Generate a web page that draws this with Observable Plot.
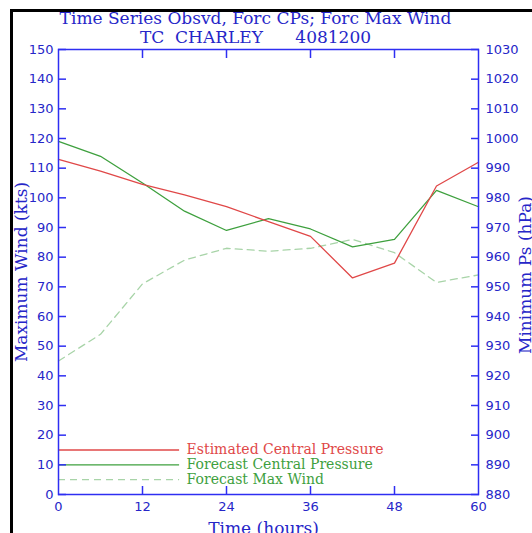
<!DOCTYPE html>
<html><head><meta charset="utf-8">
<script src="https://cdn.jsdelivr.net/npm/d3@7"></script>
<script src="https://cdn.jsdelivr.net/npm/@observablehq/plot@0.6"></script>
<style>
body{margin:0;background:#fff;}
#wrap{position:relative;width:532px;height:533px;overflow:hidden;background:#fff;}
#border{position:absolute;left:10px;top:9px;right:0;bottom:0;border-left:3px solid #000;border-top:3px solid #000;pointer-events:none;}
#wrap svg{position:absolute;left:0;top:0;}
svg text{white-space:pre;}
</style></head><body><div id="wrap"><div id="border"></div></div>
<script>
// Data (time in hours, pressure in hPa, wind in kts)
const hours = [0, 6, 12, 18, 24, 30, 36, 42, 48, 54, 60];
const estimatedCP = [993, 989, 984.5, 981, 977, 972, 967, 953, 958, 984, 992];
const forecastCP = [999, 994, 985, 975.5, 969, 973, 969.5, 963.5, 966, 982.5, 977];
const forecastWind = [45, 54, 71, 79, 83, 82, 83, 86, 81.5, 71.5, 74];
const windTicks = [0, 10, 20, 30, 40, 50, 60, 70, 80, 90, 100, 110, 120, 130, 140, 150];
const timeTicks = [0, 12, 24, 36, 48, 60];
const pressureBase = 880; // right axis: 880..1030 hPa
const titleLine1 = "Time Series Obsvd, Forc CPs; Forc Max Wind";
const titleLine2 = "TC  CHARLEY      4081200";
const legendLabels = ["Estimated Central Pressure", "Forecast Central Pressure", "Forecast Max Wind"];
const legendLevels = [15, 10, 5];

const BLUE = "#2e2ef2";
const TXT = "#2626c8";
const RED = "#e04848";
const GREEN = "#3ea03e";
const LGREEN = "#a8d4a8";

const est = hours.map((h, i) => ({h, v: estimatedCP[i] - pressureBase}));
const fcp = hours.map((h, i) => ({h, v: forecastCP[i] - pressureBase}));
const fw = hours.map((h, i) => ({h, v: forecastWind[i]}));
const legend = legendLabels.map((label, i) => ({label, y: legendLevels[i],
  color: [RED, GREEN, LGREEN][i], tcolor: [RED, GREEN, GREEN][i], dash: i === 2}));

const inner = timeTicks.slice(1, -1);
const serif = {fill: TXT, fontFamily: "DejaVu Serif", fontSize: 17, textAnchor: "middle", lineAnchor: "middle"};

const chart = Plot.plot({
  width: 532, height: 533,
  marginLeft: 58, marginRight: 54, marginTop: 49, marginBottom: 39,
  style: {fontFamily: "DejaVu Sans", fontSize: "13px", background: "transparent", overflow: "visible"},
  x: {domain: [0, 60]},
  y: {domain: [0, 150]},
  marks: [
    // data lines
    Plot.line(fw, {x: "h", y: "v", stroke: LGREEN, strokeWidth: 1.3, strokeDasharray: "7,5"}),
    Plot.line(fcp, {x: "h", y: "v", stroke: GREEN, strokeWidth: 1.3}),
    Plot.line(est, {x: "h", y: "v", stroke: RED, strokeWidth: 1.3}),
    // legend
    Plot.ruleY(legend.filter(d => !d.dash), {y: "y", x1: 0, x2: 17.3, stroke: "color", strokeWidth: 1.3}),
    Plot.ruleY(legend.filter(d => d.dash), {y: "y", x1: 0, x2: 17.3, stroke: "color", strokeWidth: 1.3, strokeDasharray: "7,5"}),
    Plot.text(legend, {x: 18.3, y: "y", text: "label", fill: "tcolor", textAnchor: "start",
      fontFamily: "DejaVu Serif", fontSize: 14}),
    // frame
    Plot.frame({stroke: BLUE, strokeWidth: 1.5}),
    // left axis
    Plot.axisY(windTicks, {anchor: "left", tickSize: -8, stroke: BLUE, strokeWidth: 1.5, tickFormat: () => "", label: null}),
    Plot.axisY(windTicks, {anchor: "left", tickSize: 0, tickPadding: 5, fill: TXT, fontSize: 13, label: null}),
    // right axis
    Plot.axisY(windTicks, {anchor: "right", tickSize: -8, stroke: BLUE, strokeWidth: 1.5, tickFormat: () => "", label: null}),
    Plot.axisY(windTicks, {anchor: "right", tickSize: 0, tickPadding: 7, fill: TXT, fontSize: 13,
      tickFormat: d => String(d + pressureBase), label: null}),
    // x axes
    Plot.axisX(inner, {anchor: "bottom", tickSize: -8, stroke: BLUE, strokeWidth: 1.5, tickFormat: () => "", label: null}),
    Plot.axisX(inner, {anchor: "top", tickSize: -8, stroke: BLUE, strokeWidth: 1.5, tickFormat: () => "", label: null}),
    Plot.axisX(timeTicks, {anchor: "bottom", tickSize: 0, tickPadding: 7, fill: TXT, fontSize: 13, label: null}),
    // titles & axis labels
    Plot.text([titleLine1], {frameAnchor: "top", dy: -31, dx: -13, ...serif}),
    Plot.text([titleLine2], {frameAnchor: "top", dy: -11.5, dx: -13, ...serif}),
    Plot.text(["Time (hours)"], {frameAnchor: "bottom", dy: 34, dx: -5, ...serif}),
    Plot.text(["Maximum Wind (kts)"], {frameAnchor: "left", dx: -37, dy: 0, rotate: -90, ...serif}),
    Plot.text(["Minimum Ps (hPa)"], {frameAnchor: "right", dx: 47, dy: 3, rotate: -90, ...serif})
  ]
});
document.getElementById("wrap").insertBefore(chart, document.getElementById("border"));
</script>
</body></html>
